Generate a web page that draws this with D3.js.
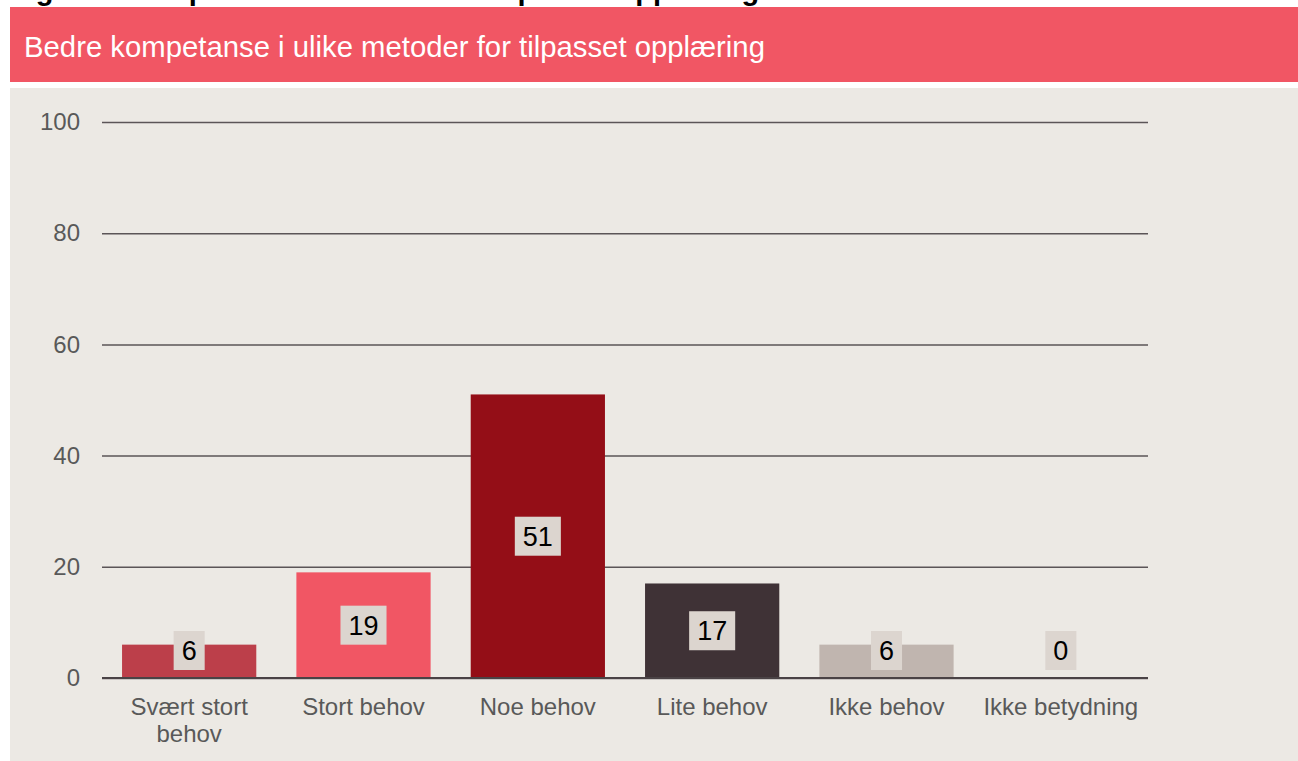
<!DOCTYPE html>
<html>
<head>
<meta charset="utf-8">
<script src="https://cdn.jsdelivr.net/npm/d3@7"></script>
<style>
  body { margin: 0; background: #fff; font-family: "Liberation Sans", Arial, sans-serif; overflow: hidden; }
</style>
</head>
<body>
<script>
// categories and values
const categories = ["Svært stort behov", "Stort behov", "Noe behov", "Lite behov", "Ikke behov", "Ikke betydning"];
const values = [6, 19, 51, 17, 6, 0];
const barColors = ["#bc3f4a", "#f15664", "#940e17", "#3f3236", "#c0b5af", "#c0b5af"];
const yTicks = [0, 20, 40, 60, 80, 100];

const width = 1298, height = 761;

const svg = d3.select("body").append("svg")
    .attr("width", width)
    .attr("height", height);

// figure title (clipped at top of page, as in the source)
svg.append("text")
    .attr("x", 10)
    .attr("y", 0)
    .attr("font-size", 29)
    .attr("font-weight", "bold")
    .attr("fill", "#000")
    .text("Figur 6: Kompetanse i metoder for tilpasset opplæring");

// red header band
svg.append("rect")
    .attr("x", 10).attr("y", 7)
    .attr("width", width - 10).attr("height", 75)
    .attr("fill", "#f15664");

svg.append("text")
    .attr("x", 24).attr("y", 57)
    .attr("font-size", 29.3)
    .attr("fill", "#fff")
    .text("Bedre kompetanse i ulike metoder for tilpasset opplæring");

// beige panel
svg.append("rect")
    .attr("x", 10).attr("y", 88)
    .attr("width", width - 10).attr("height", height - 88)
    .attr("fill", "#ece9e4");

const x = d3.scaleBand()
    .domain(categories)
    .range([102, 1148])
    .paddingInner(0.23)
    .paddingOuter(0.115);

const y = d3.scaleLinear()
    .domain([0, 100])
    .range([678, 122]);

// gridlines + y labels
const yAxis = d3.axisLeft(y)
    .tickValues(yTicks)
    .tickSize(-(1148 - 102))
    .tickPadding(22)
    .tickFormat(d3.format("d"));

const gy = svg.append("g")
    .attr("transform", "translate(102,0)")
    .call(yAxis);
gy.select(".domain").remove();
gy.selectAll(".tick line").attr("stroke", "#5b5557").attr("stroke-width", 1.5);
gy.selectAll(".tick text")
    .attr("fill", "#595959")
    .attr("font-size", 24)
    .attr("font-family", "Liberation Sans, Arial, sans-serif");

// bars
svg.append("g").selectAll("rect")
    .data(values)
    .enter().append("rect")
    .attr("x", (d, i) => x(categories[i]))
    .attr("y", d => y(d))
    .attr("width", x.bandwidth())
    .attr("height", d => y(0) - y(d))
    .attr("fill", (d, i) => barColors[i]);

// baseline
svg.append("line")
    .attr("x1", 102).attr("x2", 1148)
    .attr("y1", y(0)).attr("y2", y(0))
    .attr("stroke", "#4a4245").attr("stroke-width", 2);

// x labels
const wrapLabels = { "Svært stort behov": ["Svært stort", "behov"] };
const xl = svg.append("g").selectAll("text")
    .data(categories)
    .enter().append("text")
    .attr("x", d => x(d) + x.bandwidth() / 2)
    .attr("y", 715)
    .attr("text-anchor", "middle")
    .attr("font-size", 24)
    .attr("fill", "#595959");
xl.each(function (d) {
    const lines = wrapLabels[d] || [d];
    d3.select(this).selectAll("tspan")
        .data(lines)
        .enter().append("tspan")
        .attr("x", x(d) + x.bandwidth() / 2)
        .attr("dy", (l, i) => i === 0 ? 0 : 27)
        .text(l => l);
});

// value labels with boxes
const labels = svg.append("g").selectAll("g")
    .data(values)
    .enter().append("g")
    .attr("transform", (d, i) => {
        const cy = Math.min(y(d / 2), y(0) - 27.5);
        return "translate(" + (x(categories[i]) + x.bandwidth() / 2) + "," + cy + ")";
    });

labels.append("text")
    .attr("text-anchor", "middle")
    .attr("dy", "0.36em")
    .attr("font-size", 27)
    .attr("fill", "#000")
    .text(d => d);

labels.each(function () {
    const g = d3.select(this);
    const bb = g.select("text").node().getBBox();
    const w = bb.width + 16;
    g.insert("rect", "text")
        .attr("x", -w / 2)
        .attr("y", -19.5)
        .attr("width", w)
        .attr("height", 39)
        .attr("fill", "#dcd5cf");
});
</script>
</body>
</html>
